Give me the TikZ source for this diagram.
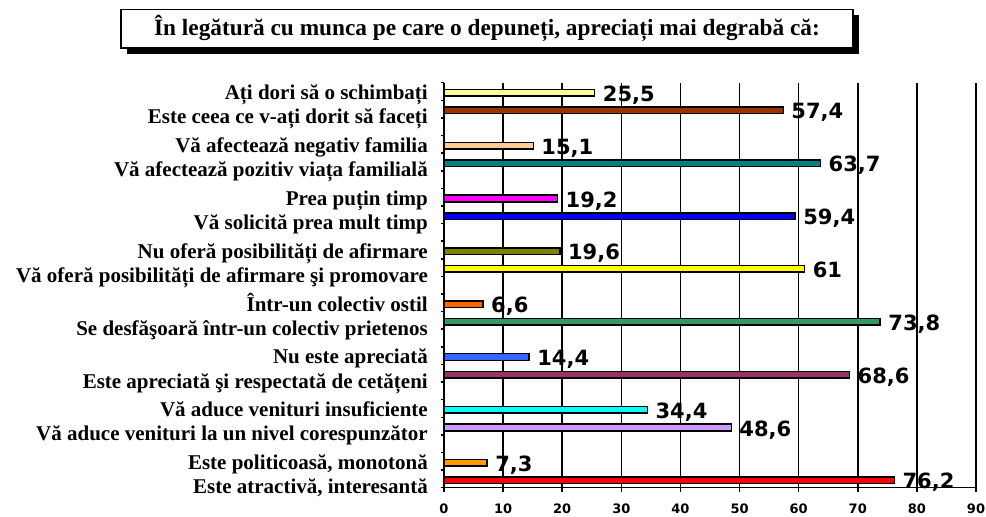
\documentclass[tikz,border=0pt]{standalone}
\usepackage{fontspec}
\setmainfont{Liberation Serif}
\newfontfamily\valfont{DejaVu Sans}
\usetikzlibrary{shadows}
\definecolor{cLemon}{RGB}{255,255,153}
\definecolor{cBrown}{RGB}{153,51,0}
\definecolor{cPeach}{RGB}{255,204,153}
\definecolor{cTeal}{RGB}{0,128,128}
\definecolor{cMagenta}{RGB}{255,0,255}
\definecolor{cBlue}{RGB}{0,0,255}
\definecolor{cOlive}{RGB}{128,128,0}
\definecolor{cYellow}{RGB}{255,255,0}
\definecolor{cRedOrange}{RGB}{255,102,0}
\definecolor{cSeaGreen}{RGB}{51,153,102}
\definecolor{cSky}{RGB}{51,102,255}
\definecolor{cPlum}{RGB}{153,51,102}
\definecolor{cCyan}{RGB}{0,255,255}
\definecolor{cLavender}{RGB}{204,153,255}
\definecolor{cOrange}{RGB}{255,153,0}
\definecolor{cRed}{RGB}{255,0,0}
\newcommand{\barx}[1]{444+#1*5.911}
\begin{document}
\begin{tikzpicture}[x=1pt,y=-1pt,
  titlebox/.style={draw,fill=white,line width=1.3pt,minimum width=732pt,minimum height=38.5pt,
    font=\fontsize{23.3}{23.3}\selectfont\bfseries,
    drop shadow={shadow xshift=6pt,shadow yshift=-6pt,fill=black,opacity=1}},
  catlabel/.style={anchor=base east,inner sep=0pt,font=\fontsize{21}{21}\selectfont\bfseries},
  vallabel/.style={anchor=base west,inner sep=0pt,font=\valfont\fontsize{21}{21}\selectfont\bfseries},
  ticklabel/.style={anchor=base,inner sep=0pt,font=\valfont\fontsize{13}{13}\selectfont\bfseries},
  hbar/.style={draw=black,line width=1.5pt},
  gridline/.style={line width=1.5pt}]
\useasboundingbox (0,0) rectangle (986,517);
% title
\node[titlebox] (title) at (487,28.7) {În legătură cu munca pe care o depuneți, apreciați mai degrabă că:};
% grid and axes
\foreach \i in {0,...,9} \draw[gridline] ({\barx{10*\i}},82.7) -- ({\barx{10*\i}},491.7);
\foreach \j in {0,...,23} \draw[gridline] (440.5,82.7+\j*17.61) -- (444,82.7+\j*17.61);
\draw[gridline] (440.5,487.7) -- (976.5,487.7);
\foreach \i in {0,...,9} \node[ticklabel] (t\i) at ({\barx{10*\i}},513.5) {\pgfmathparse{int(10*\i)}\pgfmathresult};
% bars
\draw[hbar,fill=cLemon] (444,89.5) rectangle ({\barx{25.5}},96.1);
\draw[hbar,fill=cBrown] (444,107.1) rectangle ({\barx{57.4}},113.7);
\draw[hbar,fill=cPeach] (444,142.3) rectangle ({\barx{15.1}},148.9);
\draw[hbar,fill=cTeal] (444,160.0) rectangle ({\barx{63.7}},166.6);
\draw[hbar,fill=cMagenta] (444,195.2) rectangle ({\barx{19.2}},201.8);
\draw[hbar,fill=cBlue] (444,212.8) rectangle ({\barx{59.4}},219.4);
\draw[hbar,fill=cOlive] (444,248.0) rectangle ({\barx{19.6}},254.6);
\draw[hbar,fill=cYellow] (444,265.6) rectangle ({\barx{61}},272.2);
\draw[hbar,fill=cRedOrange] (444,300.9) rectangle ({\barx{6.6}},307.5);
\draw[hbar,fill=cSeaGreen] (444,318.5) rectangle ({\barx{73.8}},325.1);
\draw[hbar,fill=cSky] (444,353.7) rectangle ({\barx{14.4}},360.3);
\draw[hbar,fill=cPlum] (444,371.3) rectangle ({\barx{68.6}},377.9);
\draw[hbar,fill=cCyan] (444,406.5) rectangle ({\barx{34.4}},413.1);
\draw[hbar,fill=cLavender] (444,424.2) rectangle ({\barx{48.6}},430.8);
\draw[hbar,fill=cOrange] (444,459.4) rectangle ({\barx{7.3}},466.0);
\draw[hbar,fill=cRed] (444,477.0) rectangle ({\barx{76.2}},483.6);
% values
\node[vallabel] (v1) at ({\barx{25.5}+8},101.3) {25,5};
\node[vallabel] (v2) at ({\barx{57.4}+8},118.9) {57,4};
\node[vallabel] (v3) at ({\barx{15.1}+8},154.1) {15,1};
\node[vallabel] (v4) at ({\barx{63.7}+8},171.8) {63,7};
\node[vallabel] (v5) at ({\barx{19.2}+8},207.0) {19,2};
\node[vallabel] (v6) at ({\barx{59.4}+8},224.6) {59,4};
\node[vallabel] (v7) at ({\barx{19.6}+8},259.8) {19,6};
\node[vallabel] (v8) at ({\barx{61}+8},277.4) {61};
\node[vallabel] (v9) at ({\barx{6.6}+8},312.7) {6,6};
\node[vallabel] (v10) at ({\barx{73.8}+8},330.3) {73,8};
\node[vallabel] (v11) at ({\barx{14.4}+8},365.5) {14,4};
\node[vallabel] (v12) at ({\barx{68.6}+8},383.1) {68,6};
\node[vallabel] (v13) at ({\barx{34.4}+8},418.3) {34,4};
\node[vallabel] (v14) at ({\barx{48.6}+8},436.0) {48,6};
\node[vallabel] (v15) at ({\barx{7.3}+8},471.2) {7,3};
\node[vallabel] (v16) at ({\barx{76.2}+8},488.8) {76,2};
% categories
\node[catlabel] (c1) at (428,99.6) {Ați dori să o schimbați};
\node[catlabel] (c2) at (428,123.8) {Este ceea ce v-ați dorit să faceți};
\node[catlabel] (c3) at (428,152.4) {Vă afectează negativ familia};
\node[catlabel] (c4) at (428,176.7) {Vă afectează pozitiv viața familială};
\node[catlabel] (c5) at (428,205.3) {Prea puțin timp};
\node[catlabel] (c6) at (428,229.5) {Vă solicită prea mult timp};
\node[catlabel] (c7) at (428,258.1) {Nu oferă posibilități de afirmare};
\node[catlabel] (c8) at (428,282.3) {Vă oferă posibilități de afirmare şi promovare};
\node[catlabel] (c9) at (428,311.0) {Într-un colectiv ostil};
\node[catlabel] (c10) at (428,335.2) {Se desfăşoară într-un colectiv prietenos};
\node[catlabel] (c11) at (428,363.8) {Nu este apreciată};
\node[catlabel] (c12) at (428,388.0) {Este apreciată şi respectată de cetățeni};
\node[catlabel] (c13) at (428,416.6) {Vă aduce venituri insuficiente};
\node[catlabel] (c14) at (428,440.9) {Vă aduce venituri la un nivel corespunzător};
\node[catlabel] (c15) at (428,469.5) {Este politicoasă, monotonă};
\node[catlabel] (c16) at (428,493.7) {Este atractivă, interesantă};
\end{tikzpicture}
\end{document}
